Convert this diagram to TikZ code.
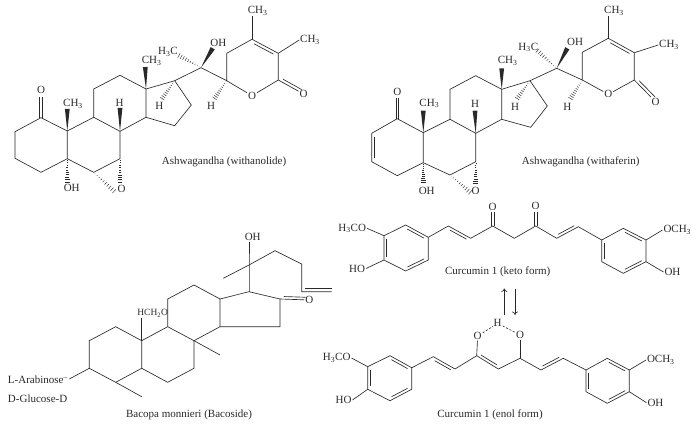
\documentclass[tikz,border=0pt]{standalone}
\usepackage{fontspec}
\setmainfont{Liberation Serif}
\usetikzlibrary{calc,arrows.meta}
\definecolor{ink}{gray}{0.16}
\newcommand{\chiii}{CH\textsubscript{3}}
\newcommand{\hiiic}{H\textsubscript{3}C}
\newcommand{\wedgeb}[2]{\fill[ink] (#1) -- ($(#2)!2.4pt!90:(#1)$) -- ($(#2)!2.4pt!-90:(#1)$) -- cycle;}
\newcommand{\hashb}[2]{\foreach \hf in {0.06,0.16,...,0.98}{\pgfmathsetmacro{\hw}{\hf*2.6}\coordinate (hp) at ($(#1)!\hf!(#2)$);\draw[hashline] ($(hp)!\hw pt!90:(#2)$) -- ($(hp)!\hw pt!-90:(#2)$);}}
\newcommand{\dblb}[3]{\coordinate (dp) at ($(#1)!.13!(#2)$);\coordinate (dq) at ($(#1)!.87!(#2)$);\draw[bond] ($(dp)!#3pt!90:(dq)$) -- ($(dq)!#3pt!-90:(dp)$);}
\newcommand{\oxo}[2]{\draw[bond] ($(#1)!1.2pt!90:(#2)$) -- ($(#2)!1.2pt!-90:(#1)$);\draw[bond] ($(#1)!1.2pt!-90:(#2)$) -- ($(#2)!1.2pt!90:(#1)$);}
\tikzset{
  bond/.style={draw=ink,line width=0.65pt,line join=miter},
  hashline/.style={draw=ink,line width=0.45pt},
  lab/.style={text=ink,font=\fontsize{11}{12}\selectfont,inner sep=0.8pt},
  captext/.style={text=ink,font=\fontsize{11}{12}\selectfont,inner sep=0pt},
  hbond/.style={draw=ink,line width=0.6pt,dash pattern=on 2.2pt off 1.6pt},
  eqarrow/.style={draw=ink,line width=0.65pt,-{To[length=3.5pt,width=6pt]}},
}
\begin{document}
\begin{tikzpicture}[x=1pt,y=-1pt]
\useasboundingbox (0,0) rectangle (697,428);
% ---------- withanolide
\foreach \n/\x/\y in {a1/41/117.7,a2/15/131.7,a3/15/158.3,a4/41/172.3,a5/67.3/158.7,a10/67.3/131,a9/93.7/117.3,a8/120/131.3,a7/120/158.7,a6/93.7/172.3,a11/93.7/89,a12/120/75.3,a13/146/89,a14/146/117.3,a15/174.7/125.7,a16/191.3/105,a17/174.7/80.7,a20/201/67.7,a22/226.7/80.7,a23/226.7/53.3,a24/252/39.3,a25/278.3/53.3,a26/278.3/80,
 aoe/41/97,atme10/67.3/109,atH8/120/108,atme13/145.3/67,atH17/161.7/99.3,at21/178/55,atOH/212.7/48.3,atH22/214/99,atOH5/67.3/182.7,atO6/115/192,atO7/120/183}
  {\coordinate (\n) at (\x,\y);}
\node[lab] (aO1) at (41,90) {O};
\node[lab] (aMe10) at (73,103.7) {\chiii};
\node[lab] (aH8) at (119.5,103) {H};
\node[lab] (aMe13) at (151.7,60.7) {\chiii};
\node[lab] (aH17) at (159.3,106) {H};
\node[lab] (aMe21) at (168,51.7) {\hiiic};
\node[lab] (aOH20) at (218.3,42.7) {OH};
\node[lab] (aH22) at (211,106) {H};
\node[lab] (aOr) at (252,95.7) {O};
\node[lab] (aO26) at (303.5,94) {O};
\node[lab] (aMe24) at (257.7,11) {\chiii};
\node[lab] (aMe25) at (310,40) {\chiii};
\node[lab] (aOH5) at (71.7,187.7) {OH};
\node[lab] (aOe) at (121.7,188.5) {O};
\draw[bond] (a1)--(a2)--(a3)--(a4)--(a5)--(a10)--cycle;
\draw[bond] (a10)--(a9)--(a8)--(a7)--(a6)--(a5);
\draw[bond] (a9)--(a11)--(a12)--(a13)--(a14)--(a8);
\draw[bond] (a14)--(a15)--(a16)--(a17)--(a13);
\draw[bond] (a17)--(a20)--(a22)--(a23)--(a24)--(a25)--(a26);
\draw[bond] (a22)--(aOr)--(a26);
\draw[bond] (a24)--(aMe24.south -| a24);
\draw[bond] (a25)--(aMe25.west);
\dblb{a24}{a25}{-3}
\oxo{a1}{aoe}
\draw[bond] (a26)--(aO26);
\dblb{a26}{aO26}{3}
\wedgeb{a10}{atme10}\wedgeb{a8}{atH8}\wedgeb{a13}{atme13}\wedgeb{a20}{atOH}
\hashb{a17}{atH17}\hashb{a20}{at21}\hashb{a22}{atH22}\hashb{a5}{atOH5}\hashb{a6}{atO6}\hashb{a7}{atO7}
\node[captext] (aCap) at (224,162) {Ashwagandha (withanolide)};
% ---------- withaferin
\foreach \n/\x/\y in {b1/397.3/118.7,b2/371.7/133.3,b3/371.7/161.7,b4/397.3/175.7,b5/423.3/162.7,b10/423.3/132.7,b9/450/119.3,b8/475.7/133.3,b7/475.7/161.7,b6/450/175,b11/450/89.3,b12/475.7/75.7,b13/501.7/89.3,b14/501.7/119.3,b15/530.7/127.3,b16/547.3/106,b17/530/80.7,b20/556.7/68.3,b22/582.3/80,b23/582.3/52.3,b24/608.3/38.3,b25/634.3/52.7,b26/634.3/80,
 boe/397.3/98,btme10/423.3/110.7,btH8/475/110.7,btme13/501.7/68.3,btH17/516.7/99.3,bt21/536.7/50,btOH/567.3/48.3,btH22/570/99.3,btOH5/423.3/183.3,btO6/471/193,btO7/475.7/184.3}
  {\coordinate (\n) at (\x,\y);}
\node[lab] (bO1) at (397.3,91.7) {O};
\node[lab] (bMe10) at (429.3,103.3) {\chiii};
\node[lab] (bH8) at (475,104) {H};
\node[lab] (bMe13) at (507.7,61) {\chiii};
\node[lab] (bH17) at (515,107.3) {H};
\node[lab] (bMe21) at (528.3,47.3) {\hiiic};
\node[lab] (bOH20) at (575,41.7) {OH};
\node[lab] (bH22) at (567.3,107.3) {H};
\node[lab] (bOr) at (608.3,94.3) {O};
\node[lab] (bO26) at (655.5,101.7) {O};
\node[lab] (bMe24) at (614,11) {\chiii};
\node[lab] (bMe25) at (669,45) {\chiii};
\node[lab] (bOH5) at (426.7,190.7) {OH};
\node[lab] (bOe) at (475.7,191) {O};
\draw[bond] (b1)--(b2)--(b3)--(b4)--(b5)--(b10)--cycle;
\draw[bond] (b10)--(b9)--(b8)--(b7)--(b6)--(b5);
\draw[bond] (b9)--(b11)--(b12)--(b13)--(b14)--(b8);
\draw[bond] (b14)--(b15)--(b16)--(b17)--(b13);
\draw[bond] (b17)--(b20)--(b22)--(b23)--(b24)--(b25)--(b26);
\draw[bond] (b22)--(bOr)--(b26);
\draw[bond] (b24)--(bMe24.south -| b24);
\draw[bond] (b25)--(bMe25.west);
\dblb{b24}{b25}{-3}
\dblb{b2}{b3}{3}
\oxo{b1}{boe}
\draw[bond] (b26)--(bO26);
\dblb{b26}{bO26}{3}
\wedgeb{b10}{btme10}\wedgeb{b8}{btH8}\wedgeb{b13}{btme13}\wedgeb{b20}{btOH}
\hashb{b17}{btH17}\hashb{b20}{bt21}\hashb{b22}{btH22}\hashb{b5}{btOH5}\hashb{b6}{btO6}\hashb{b7}{btO7}
\node[captext] (bCap) at (580.7,162) {Ashwagandha (withaferin)};
% ---------- bacoside
\foreach \n/\x/\y in {c1/115.7/326.7,c2/89.3/340.7,c3/89.3/368.3,c4/115.7/382.3,c5/141.7/368.3,c10/141.7/340.7,c9/167.7/326.7,c8/194/340.7,c7/194/368.3,c6/167.7/382.3,c11/167.7/299,c12/194/285,c13/220/299,c14/220/326.7,c15/280/326.7,c16/280/299,c17/249/291.7,c20/249/265,c21/223.3/278.3,c22/275/250.7,c23/301.7/264,c24/301.7/291.7,c25/331.7/291.7,cme8/220/355,cme4/141.7/396.7,cgl/69.3/379,dA/305/288.3,dB/331.7/288.3}
  {\coordinate (\n) at (\x,\y);}
\node[lab] (cOH) at (252.7,237.3) {OH};
\node[lab] (cO) at (309.3,300) {O};
\node[font=\fontsize{9.5}{11}\selectfont,text=ink,inner sep=0.5pt] (cHCH) at (152.7,313.3) {HCH\textsubscript{2}O};
\node[lab,anchor=west] (cAra) at (7,380) {L-Arabinose\textsuperscript{--}};
\node[lab,anchor=west] (cGlc) at (7,398.3) {D-Glucose-D};
\node[captext] (cCap) at (189,415) {Bacopa monnieri (Bacoside)};
\draw[bond] (c1)--(c2)--(c3)--(c4)--(c5)--(c10)--cycle;
\draw[bond] (c10)--(c9)--(c8)--(c7)--(c6)--(c5);
\draw[bond] (c9)--(c11)--(c12)--(c13)--(c14)--(c8);
\draw[bond] (c14)--(c15)--(c16)--(c17)--(c13);
\draw[bond] (c17)--(c20)--(cOH.south -| c20);
\draw[bond] (c21)--(c20)--(c22)--(c23)--(c24)--(c25);
\draw[bond] (dA)--(dB);
\draw[bond] (c8)--(cme8);
\draw[bond] (c4)--(cme4);
\draw[bond] (c3)--(cgl);
\draw[bond] (c10)--(cHCH.south -| c10);
\draw[bond] (c16)--(cO);
\dblb{c16}{cO}{2.6}
% ---------- curcumin keto
\foreach \n/\x/\y in {k1/384/235.7,k2/405.7/225,k3/428.3/237.3,k4/428.3/260,k5/405.7/271,k6/384/260,k7/448.3/226,k8/470.7/238.3,k9/492.7/226,k10/514.3/238.3,k11/535.7/226,k12/556.7/238.3,k13/578.3/226.7,k14/601.7/240,k15/623.3/228.3,k16/646/240,k17/646/261.7,k18/623.3/273.3,k19/601.7/261.7,ke9/492.7/212,ke11/535.7/211.5}
  {\coordinate (\n) at (\x,\y);}
\node[lab,anchor=east] (kOMeL) at (367,228.3) {H\textsubscript{3}CO};
\node[lab,anchor=east] (kHOL) at (366,268.5) {HO};
\node[lab] (kO9) at (492.7,206.5) {O};
\node[lab] (kO11) at (535.7,206) {O};
\node[lab,anchor=west] (kOMeR) at (662.5,230) {OCH\textsubscript{3}};
\node[lab,anchor=west] (kOHR) at (663.5,272) {OH};
\node[captext] (kCap) at (497.7,271.7) {Curcumin 1 (keto form)};
\draw[bond] (k1)--(k2)--(k3)--(k4)--(k5)--(k6)--cycle;
\draw[bond] (k3)--(k7)--(k8)--(k9)--(k10)--(k11)--(k12)--(k13)--(k14);
\draw[bond] (k14)--(k15)--(k16)--(k17)--(k18)--(k19)--cycle;
\draw[bond] (k1)--(kOMeL.east);
\draw[bond] (k6)--(kHOL.east);
\draw[bond] (k16)--(kOMeR.west);
\draw[bond] (k17)--(kOHR.west);
\oxo{k9}{ke9}\oxo{k11}{ke11}
\dblb{k2}{k3}{-2.8}\dblb{k4}{k5}{-2.8}\dblb{k6}{k1}{-2.8}
\dblb{k7}{k8}{-2.8}\dblb{k12}{k13}{2.8}
\dblb{k15}{k16}{-2.8}\dblb{k17}{k18}{-2.8}\dblb{k19}{k14}{-2.8}
% ---------- equilibrium arrows
\coordinate (up0) at (504.3,315);\coordinate (up1) at (504.3,288.5);
\coordinate (dn0) at (515,288.5);\coordinate (dn1) at (515,315);
\draw[eqarrow] (up0)--(up1);
\draw[eqarrow] (dn0)--(dn1);
% ---------- curcumin enol
\foreach \n/\x/\y in {e1/367.7/366.7,e2/390/355.7,e3/411.7/367.7,e4/411.7/389.3,e5/390/400.7,e6/367.7/389.3,e7/433.3/356.7,e8/455/369,e9/476.7/355.7,e10/498.3/369,e11/520/358.3,e12/541/370,e13/563.3/358.3,e14/586/370,e15/607.3/358.3,e16/629.3/370,e17/629.3/391.7,e18/607.3/403.3,e19/586/391.7}
  {\coordinate (\n) at (\x,\y);}
\node[lab,anchor=east] (eOMeL) at (351.5,358) {H\textsubscript{3}CO};
\node[lab,anchor=east] (eHOL) at (352.5,400) {HO};
\node[lab] (eO9) at (477.7,336) {O};
\node[lab] (eO11) at (520,335) {O};
\node[lab] (eH) at (497.7,323.3) {H};
\node[lab,anchor=west] (eOMeR) at (646,360) {OCH\textsubscript{3}};
\node[lab,anchor=west] (eOHR) at (646.5,402.7) {OH};
\node[captext] (eCap) at (490,415) {Curcumin 1 (enol form)};
\draw[bond] (e1)--(e2)--(e3)--(e4)--(e5)--(e6)--cycle;
\draw[bond] (e3)--(e7)--(e8)--(e9)--(e10)--(e11)--(e12)--(e13)--(e14);
\draw[bond] (e14)--(e15)--(e16)--(e17)--(e18)--(e19)--cycle;
\draw[bond] (e9)--(eO9);
\draw[bond] (e11)--(eO11);
\draw[bond] (e1)--(eOMeL.east);
\draw[bond] (e6)--(eHOL.east);
\draw[bond] (e16)--(eOMeR.west);
\draw[bond] (e17)--(eOHR.west);
\draw[hbond] (eO9)--(eH);
\draw[hbond] (eH)--(eO11);
\dblb{e2}{e3}{-2.8}\dblb{e4}{e5}{-2.8}\dblb{e6}{e1}{-2.8}
\dblb{e7}{e8}{-2.8}\dblb{e9}{e10}{2.8}\dblb{e12}{e13}{2.8}
\dblb{e15}{e16}{-2.8}\dblb{e17}{e18}{-2.8}\dblb{e19}{e14}{-2.8}
\end{tikzpicture}
\end{document}
